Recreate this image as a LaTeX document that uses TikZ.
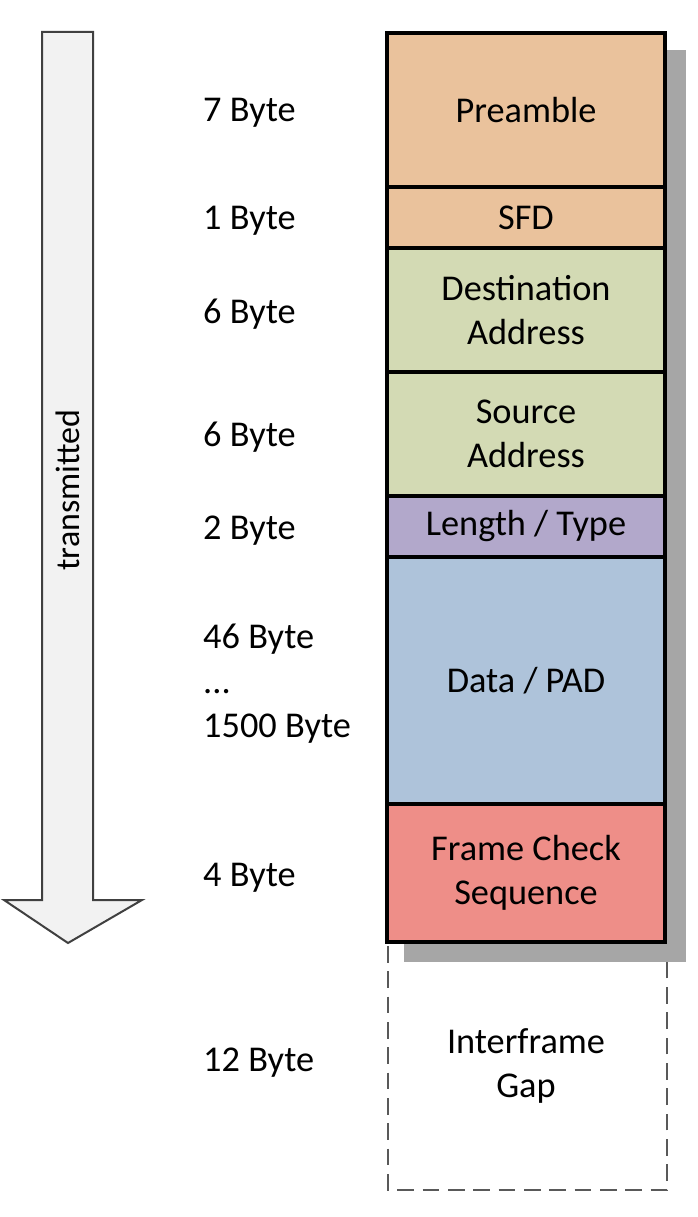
\documentclass[tikz,border=0pt]{standalone}
\usepackage{fontspec}
\setmainfont{Carlito}
\usetikzlibrary{positioning}

\definecolor{preamblecol}{HTML}{EAC29C}
\definecolor{addrcol}{HTML}{D3DAB4}
\definecolor{typecol}{HTML}{B2A8CB}
\definecolor{datacol}{HTML}{AEC3DA}
\definecolor{fcscol}{HTML}{EE8E88}
\definecolor{shadowcol}{HTML}{A6A6A6}
\definecolor{arrowcol}{HTML}{F2F2F2}

\begin{document}
\begin{tikzpicture}[
    x=0.3mm, y=-0.3mm,
    field/.style={rectangle, draw=black, line width=0.95mm, minimum width=83.4mm,
      minimum height=#1*0.3mm, inner sep=0pt, outer sep=0pt, align=center,
      font=\fontsize{31}{38}\selectfont},
    size/.style={anchor=west, align=left, inner sep=0pt, font=\fontsize{31}{38}\selectfont},
    gapline/.style={draw=black!65, line width=0.7mm, dash pattern=on 5mm off 2.6mm}
  ]
    \useasboundingbox (0,0) rectangle (697,1217);

    % Direction arrow
    \draw[draw=black!75, fill=arrowcol, line width=0.6mm, line join=miter]
      (42,32) -- (93,32) -- (93,900) -- (142,900) -- (68,943) -- (4,900) -- (42,900) -- cycle;
    \node[rotate=90, font=\fontsize{29}{35}\selectfont] (dirlabel) at (68,490) {transmitted};

    % Shadow and interframe gap
    \fill[shadowcol] (404,50) rectangle (686,962);
    \draw[gapline] (388,946) -- (388,1190) -- (667,1190) -- (667,962);

    % Frame fields
    \node[field=154, fill=preamblecol] (pre) at (526,110) {Preamble};
    \node[field=61, fill=preamblecol, below=0pt of pre] (sfd) {SFD};
    \node[field=124, fill=addrcol, below=0pt of sfd] (dst) {Destination\\Address};
    \node[field=124, fill=addrcol, below=0pt of dst] (src) {Source\\Address};
    \node[field=61, fill=typecol, below=0pt of src] (len) {Length / Type};
    \node[field=247, fill=datacol, below=0pt of len] (data) {Data / PAD};
    \node[field=138, fill=fcscol, below=0pt of data] (fcs) {Frame Check\\Sequence};
    \node[field=248, draw=none, below=0pt of fcs] (ifg) {Interframe\\Gap};

    % Sizes
    \node[size] (spre) at (203,113) {7 Byte};
    \node[size] (ssfd) at (203,221) {1 Byte};
    \node[size] (sdst) at (203,314) {6 Byte};
    \node[size] (ssrc) at (203,437) {6 Byte};
    \node[size] (slen) at (203,531) {2 Byte};
    \node[size] (sdata) at (203,684) {46 Byte\\...\\1500 Byte};
    \node[size] (sfcs) at (203,878) {4 Byte};
    \node[size] (sifg) at (203,1063) {12 Byte};
\end{tikzpicture}
\end{document}
